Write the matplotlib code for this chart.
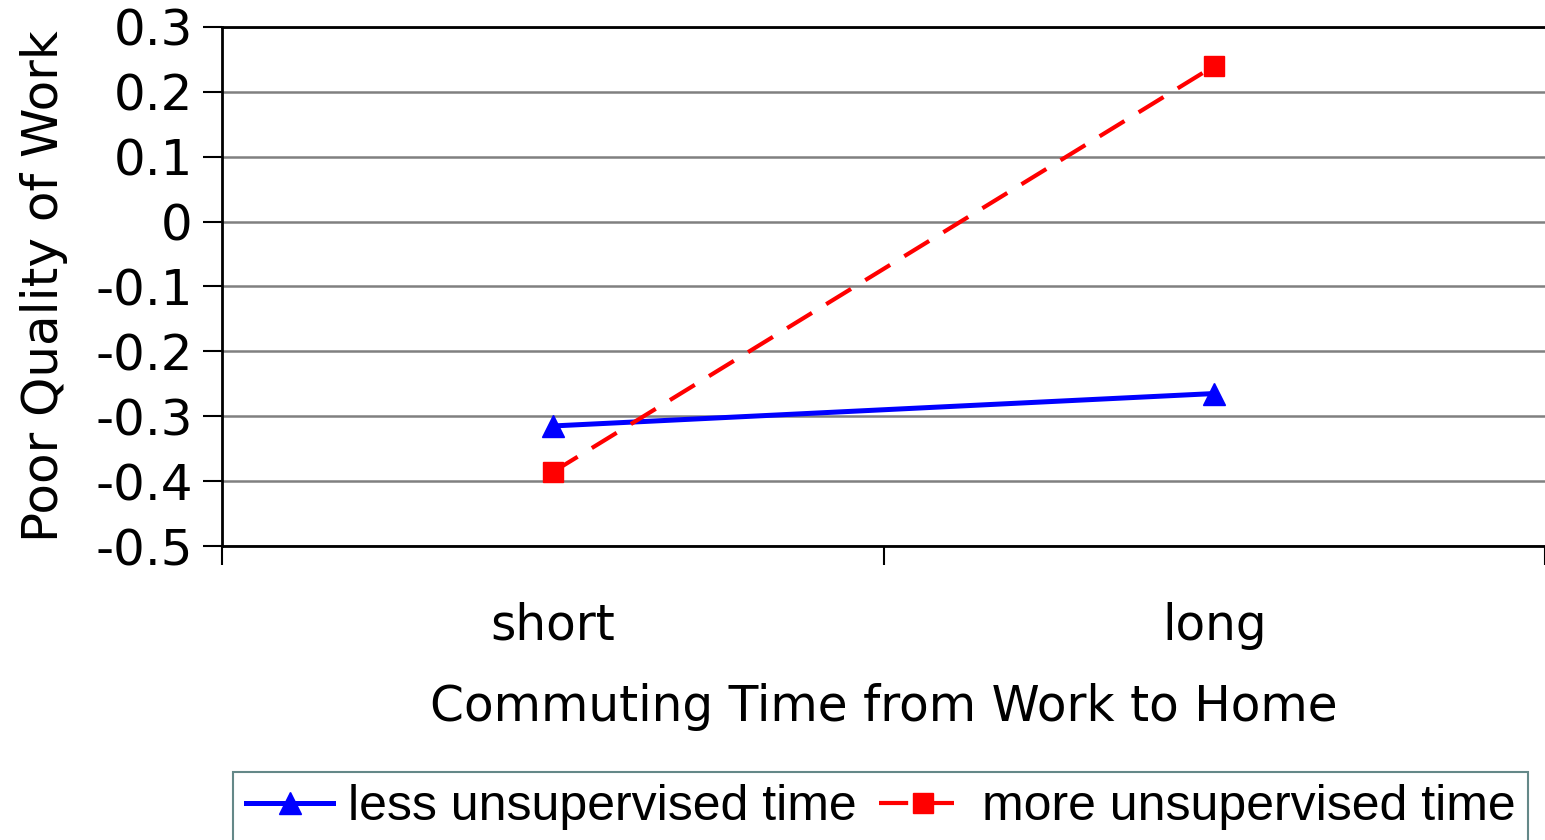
import matplotlib
matplotlib.use("Agg")
import matplotlib.pyplot as plt

categories = ["short", "long"]
less_unsup = [-0.315, -0.265]
more_unsup = [-0.386, 0.240]
yticks = [0.3, 0.2, 0.1, 0, -0.1, -0.2, -0.3, -0.4, -0.5]
ytick_labels = ["0.3", "0.2", "0.1", "0", "-0.1", "-0.2", "-0.3", "-0.4", "-0.5"]

plt.rcParams['font.family'] = ['DejaVu Sans']

fig = plt.figure(figsize=(15.45, 8.4), dpi=100)
ax = fig.add_axes([0.1437, 0.35, 0.8563, 0.6179])

x = list(range(len(categories)))
ax.plot(x, less_unsup, color='#0000ff', lw=3.6, marker='^', markersize=16,
        label='less unsupervised time', zorder=3)
ax.plot(x, more_unsup, color='#ff0000', lw=3.0, ls=(0, (7, 4)), marker='s', markersize=14,
        label='more unsupervised time', zorder=3)

ax.set_xlim(-0.5, 1.5)
ax.set_ylim(-0.5, 0.3)
ax.set_yticks(yticks)
ax.set_yticklabels(ytick_labels)
ax.set_xticks(x)
ax.set_xticklabels(categories)
ax.set_xticks([-0.5, 0.5, 1.5], minor=True)
ax.tick_params(axis='x', which='major', length=0, pad=40, labelsize=35)
ax.tick_params(axis='x', which='minor', length=14, width=1.5, direction='out')
ax.tick_params(axis='y', length=14, width=1.5, direction='out', labelsize=36, pad=7)

ax.grid(axis='y', color='#808080', lw=1.8)
ax.set_axisbelow(True)
for s in ['left', 'bottom', 'top']:
    ax.spines[s].set_color('black')
    ax.spines[s].set_linewidth(2)
ax.spines['right'].set_visible(False)

ax.set_xlabel('Commuting Time from Work to Home', fontsize=35, labelpad=24)
ax.set_ylabel('Poor Quality of Work', fontsize=36, labelpad=20)

leg = fig.legend(loc='upper center', bbox_to_anchor=(0.570, 0.081), ncol=2,
                 frameon=True, fancybox=False,
                 prop={'family': 'Liberation Sans', 'size': 36},
                 handlelength=1.75, handletextpad=0.3, columnspacing=0.45,
                 borderpad=0.25, borderaxespad=0, edgecolor='#3d6b6b')
leg.get_frame().set_linewidth(1.5)

fig.savefig('out.png', dpi=100)
